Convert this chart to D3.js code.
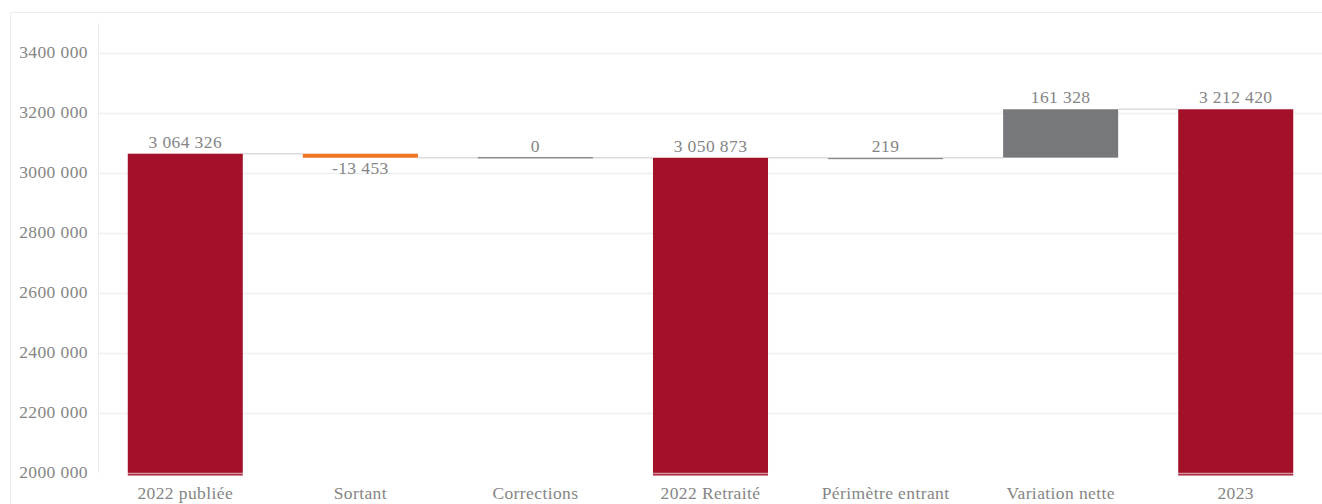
<!DOCTYPE html>
<html><head><meta charset="utf-8">
<script src="https://cdn.jsdelivr.net/npm/d3@7"></script>
<style>body{margin:0;background:#fff;}svg{display:block;}text{letter-spacing:0.4px;}</style>
</head><body>
<svg id="c" width="1322" height="504"></svg>
<script>
const categories = ["2022 publiée","Sortant","Corrections","2022 Retraité","Périmètre entrant","Variation nette","2023"];
const values = [3064326, -13453, 0, 3050873, 219, 161328, 3212420];
const kinds = ["total","delta","delta","total","delta","delta","total"];
const labels = ["3 064 326","-13 453","0","3 050 873","219","161 328","3 212 420"];
const yTicks = [2000000,2200000,2400000,2600000,2800000,3000000,3200000,3400000];
const colors = {total:"#a31129", neg:"#ee7623", pos:"#76787b", zero:"#8a8a8a"};

const svg = d3.select("#c");
const m = {left:98, right:1323, top:23, bottom:473};
const x = d3.scaleBand().domain(categories).range([m.left, m.right]).paddingInner(0.343).paddingOuter(0.17);
const y = d3.scaleLinear().domain([2000000, 3500000]).range([m.bottom, m.top]);
const font = "'Liberation Serif', serif";
const fs = 17.5;

// frame
svg.append("rect").attr("x",10.5).attr("y",12.5).attr("width",1330).attr("height",520).attr("fill","none").attr("stroke","#ececec");

// waterfall computation
let run = 0;
const bars = categories.map((c,i)=>{
  let y0,y1;
  if(kinds[i]==="total"){ y0 = null; y1 = values[i]; run = values[i]; }
  else { y0 = run; y1 = run + values[i]; run = y1; }
  return {c, i, y0, y1, v:values[i], kind:kinds[i]};
});

// gridlines
svg.append("g").selectAll("line").data(yTicks.slice(1)).join("line")
  .attr("x1",m.left).attr("x2",m.right).attr("y1",d=>y(d)+0.5).attr("y2",d=>y(d)+0.5)
  .attr("stroke","#efefef").attr("stroke-width",1.5);
svg.append("line").attr("x1",m.left+0.5).attr("x2",m.left+0.5).attr("y1",m.top).attr("y2",m.bottom)
  .attr("stroke","#ececec");

// connectors
const conn = svg.append("g");
bars.forEach((b,i)=>{
  if(i===bars.length-1) return;
  const end = b.y1;
  conn.append("line").attr("x1",x(b.c)+x.bandwidth()).attr("x2",x(categories[i+1]))
    .attr("y1",y(end)).attr("y2",y(end)).attr("stroke","#dcdcdc").attr("stroke-width",1.5);
});

// bars
const bg = svg.append("g");
bars.forEach(b=>{
  const bx = x(b.c), bw = x.bandwidth();
  if(b.kind==="total"){
    bg.append("rect").attr("x",bx).attr("width",bw).attr("y",y(b.y1)).attr("height",y(2000000)-y(b.y1)+2.5).attr("fill",colors.total);
  } else if(b.v===0){
    bg.append("rect").attr("x",bx).attr("width",bw).attr("y",y(b.y0)-0.75).attr("height",1.5).attr("fill",colors.zero);
  } else {
    const top = Math.max(b.y0,b.y1), bot = Math.min(b.y0,b.y1);
    const h = Math.max(1.5, y(bot)-y(top));
    bg.append("rect").attr("x",bx).attr("width",bw).attr("y",y(top)).attr("height",h)
      .attr("fill", b.v<0?colors.neg:(Math.abs(b.v)<5000?colors.zero:colors.pos));
  }
});

// bottom line over bars
svg.append("line").attr("x1",m.left).attr("x2",m.right).attr("y1",y(2000000)+0.5).attr("y2",y(2000000)+0.5)
  .attr("stroke","#ffffff").attr("stroke-opacity",0.55).attr("stroke-width",1.5);

// value labels
svg.append("g").selectAll("text").data(bars).join("text")
  .attr("x",d=>x(d.c)+x.bandwidth()/2)
  .attr("y",d=>{
    if(d.kind==="total") return y(d.y1)-6;
    if(d.v<0) return y(Math.min(d.y0,d.y1))+16;
    return y(Math.max(d.y0,d.y1))-6;
  })
  .attr("text-anchor","middle").attr("font-family",font).attr("font-size",fs).attr("fill","#858585")
  .text((d,i)=>labels[i]);

// y axis labels
svg.append("g").selectAll("text").data(yTicks).join("text")
  .attr("x",88).attr("y",d=>y(d)+5).attr("text-anchor","end")
  .attr("font-family",font).attr("font-size",fs).attr("fill","#858585")
  .text(d=>d3.format(",")(d).replace(/,/g," ").replace(/^(\d) (\d\d\d) /,"$1$2 "));

// x axis labels
svg.append("g").selectAll("text").data(categories).join("text")
  .attr("x",d=>x(d)+x.bandwidth()/2).attr("y",499).attr("text-anchor","middle")
  .attr("font-family",font).attr("font-size",fs).attr("fill","#858585").text(d=>d);
</script>
</body></html>
